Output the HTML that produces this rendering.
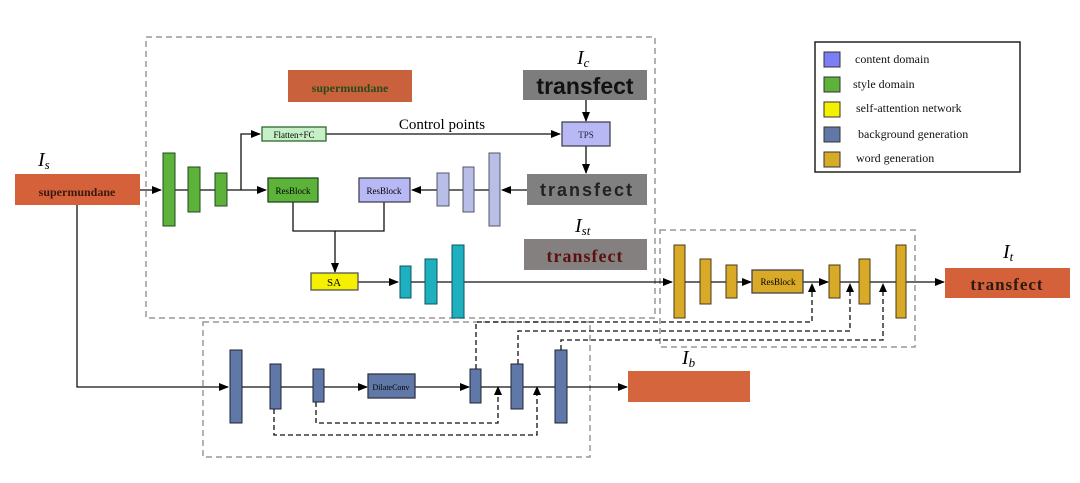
<!DOCTYPE html>
<html><head><meta charset="utf-8"><style>
html,body{margin:0;padding:0;background:#fff;}
svg{display:block;font-family:"Liberation Serif",serif;}
</style></head><body>
<svg width="1080" height="483" viewBox="0 0 1080 483" xmlns="http://www.w3.org/2000/svg">
<defs>
<marker id="a" markerWidth="10" markerHeight="8" refX="9" refY="4" orient="auto" markerUnits="userSpaceOnUse"><path d="M0,0 L10,4 L0,8 z" fill="#000"/></marker>
</defs>
<rect width="1080" height="483" fill="#fff"/>
<g fill="none" stroke="#999" stroke-width="1.5" stroke-dasharray="6,4">
<rect x="146" y="37" width="509" height="281"/>
<rect x="203" y="322" width="387" height="135"/>
<rect x="660" y="230" width="255" height="117"/>
</g>
<rect x="815" y="42" width="205" height="130" fill="#fff" stroke="#222" stroke-width="1.5"/>
<g stroke="#333" stroke-width="1">
<rect x="824" y="52" width="16" height="15" fill="#7b7ef5"/>
<rect x="824" y="77" width="16" height="15" fill="#5db33a"/>
<rect x="824" y="102" width="16" height="15" fill="#f5f000"/>
<rect x="824" y="127" width="16" height="15" fill="#6078a8"/>
<rect x="824" y="152" width="16" height="15" fill="#d9a928"/>
</g>
<g font-size="12" fill="#111">
<text x="855" y="63">content domain</text>
<text x="853" y="88">style domain</text>
<text x="856" y="112">self-attention network</text>
<text x="858" y="138">background generation</text>
<text x="856" y="162">word generation</text>
</g>
<rect x="15" y="174" width="125" height="31" fill="#d4613a"/>
<text x="77" y="196" font-size="12" font-weight="bold" text-anchor="middle" fill="#3a1a10">supermundane</text>
<text x="38" y="166" font-size="20" font-style="italic">I<tspan font-size="13" dy="3">s</tspan></text>
<rect x="288" y="70" width="124" height="32" fill="#c9623c"/>
<text x="350" y="92" font-size="12" font-weight="bold" text-anchor="middle" fill="#2a4a1a">supermundane</text>
<rect x="523" y="70" width="124" height="30" fill="#7d7d7d"/>
<text x="585" y="94" font-family="Liberation Sans,sans-serif" font-size="23" font-weight="bold" text-anchor="middle" fill="#111">transfect</text>
<text x="577" y="64" font-size="20" font-style="italic">I<tspan font-size="13" dy="3">c</tspan></text>
<rect x="527" y="174" width="120" height="31" fill="#808080"/>
<text x="587" y="196" font-family="Liberation Sans,sans-serif" font-size="18" font-weight="bold" text-anchor="middle" fill="#222" letter-spacing="2">transfect</text>
<text x="575" y="232" font-size="20" font-style="italic">I<tspan font-size="13" dy="3">st</tspan></text>
<rect x="524" y="239" width="123" height="31" fill="#858080"/>
<text x="585" y="262" font-size="18" font-weight="bold" text-anchor="middle" fill="#5a1010" letter-spacing="1">transfect</text>
<text x="1003" y="258" font-size="20" font-style="italic">I<tspan font-size="13" dy="3">t</tspan></text>
<rect x="945" y="268" width="125" height="30" fill="#d4613a"/>
<text x="1007" y="290" font-size="17" font-weight="bold" text-anchor="middle" fill="#2a1a10" letter-spacing="1">transfect</text>
<text x="682" y="364" font-size="20" font-style="italic">I<tspan font-size="13" dy="3">b</tspan></text>
<rect x="628" y="371" width="122" height="31" fill="#d4653c"/>
<g stroke="#111" stroke-width="1.3" fill="none">
<line x1="140" y1="190" x2="161" y2="190" marker-end="url(#a)"/>
<line x1="175" y1="190" x2="241" y2="190"/>
<polyline points="241,190 241,134 260,134" marker-end="url(#a)"/>
<line x1="241" y1="190" x2="266" y2="190" marker-end="url(#a)"/>
<line x1="326" y1="134" x2="560" y2="134" marker-end="url(#a)"/>
<line x1="586" y1="100" x2="586" y2="121" marker-end="url(#a)"/>
<line x1="586" y1="146" x2="586" y2="173" marker-end="url(#a)"/>
<line x1="527" y1="190" x2="502" y2="190" marker-end="url(#a)"/>
<line x1="489" y1="190" x2="437" y2="190"/>
<line x1="437" y1="190" x2="412" y2="190" marker-end="url(#a)"/>
<polyline points="293,202 293,231 384,231 384,202"/>
<line x1="335" y1="231" x2="335" y2="272" marker-end="url(#a)"/>
<line x1="358" y1="282" x2="398" y2="282" marker-end="url(#a)"/>
<line x1="411" y1="282" x2="672" y2="282" marker-end="url(#a)"/>
<line x1="685" y1="282" x2="726" y2="282"/>
<line x1="737" y1="282" x2="751" y2="282" marker-end="url(#a)"/>
<line x1="803" y1="282" x2="828" y2="282" marker-end="url(#a)"/>
<line x1="840" y1="282" x2="944" y2="282" marker-end="url(#a)"/>
<polyline points="77,205 77,387 228,387" marker-end="url(#a)"/>
<line x1="242" y1="387" x2="313" y2="387"/>
<line x1="324" y1="387" x2="367" y2="387" marker-end="url(#a)"/>
<line x1="415" y1="387" x2="469" y2="387" marker-end="url(#a)"/>
<line x1="481" y1="387" x2="555" y2="387"/>
<line x1="567" y1="387" x2="627" y2="387" marker-end="url(#a)"/>
</g>
<text x="442" y="129" font-size="15" text-anchor="middle">Control points</text>
<g stroke="#111" stroke-width="1.3" fill="none" stroke-dasharray="5,3">
<polyline points="274,409 274,435 537,435 537,390"/>
<polyline points="316,402 316,423 498,423 498,390"/>
<polyline points="476,369 476,322 812,322 812,286"/>
<polyline points="518,364 518,331 850,331 850,286"/>
<polyline points="561,350 561,340 883,340 883,286"/>
</g>
<g fill="#000">
<path d="M537,386 l-4,9 h8z"/><path d="M498,386 l-4,9 h8z"/>
<path d="M812,283 l-4,9 h8z"/><path d="M850,283 l-4,9 h8z"/><path d="M883,283 l-4,9 h8z"/>
</g>
<g stroke-width="1.3" font-size="10" text-anchor="middle">
<rect x="262" y="127" width="64" height="14" fill="#c8f0c8" stroke="#2a6a2a"/>
<text x="294" y="138" font-size="9">Flatten+FC</text>
<rect x="562" y="122" width="48" height="24" fill="#b8b8f5" stroke="#445"/>
<text x="586" y="138" font-size="9" fill="#224">TPS</text>
<rect x="268" y="178" width="50" height="24" fill="#5db33a" stroke="#1e4a1e"/>
<text x="293" y="194" font-size="9">ResBlock</text>
<rect x="359" y="178" width="51" height="24" fill="#b8b8f5" stroke="#445"/>
<text x="384" y="194" font-size="9">ResBlock</text>
<rect x="311" y="273" width="47" height="17" fill="#f5f000" stroke="#555"/>
<text x="334" y="286" font-size="11">SA</text>
<rect x="752" y="270" width="51" height="23" fill="#d9a928" stroke="#444"/>
<text x="778" y="285" font-size="9">ResBlock</text>
<rect x="368" y="374" width="47" height="24" fill="#6078a8" stroke="#334"/>
<text x="391" y="390" font-size="8">DilateConv</text>
</g>
<g stroke-width="1">
<g fill="#5db33a" stroke="#1e4a1e">
<rect x="163" y="153" width="12" height="73"/><rect x="188" y="167" width="12" height="45"/><rect x="215" y="173" width="12" height="33"/>
</g>
<g fill="#b8bee8" stroke="#556">
<rect x="437" y="173" width="12" height="33"/><rect x="463" y="167" width="11" height="45"/><rect x="489" y="153" width="11" height="73"/>
</g>
<g fill="#1fb0c0" stroke="#0a5560">
<rect x="400" y="266" width="11" height="32"/><rect x="425" y="259" width="12" height="45"/><rect x="452" y="245" width="12" height="73"/>
</g>
<g fill="#d9a928" stroke="#4a3a10">
<rect x="674" y="245" width="11" height="73"/><rect x="700" y="259" width="11" height="45"/><rect x="726" y="265" width="11" height="33"/>
<rect x="829" y="265" width="11" height="33"/><rect x="859" y="259" width="11" height="45"/><rect x="896" y="245" width="10" height="73"/>
</g>
<g fill="#6078a8" stroke="#223">
<rect x="230" y="350" width="12" height="73"/><rect x="270" y="364" width="11" height="45"/><rect x="313" y="369" width="11" height="33"/>
<rect x="470" y="369" width="11" height="34"/><rect x="511" y="364" width="12" height="45"/><rect x="555" y="350" width="12" height="73"/>
</g>
</g>
</svg>
</body></html>
